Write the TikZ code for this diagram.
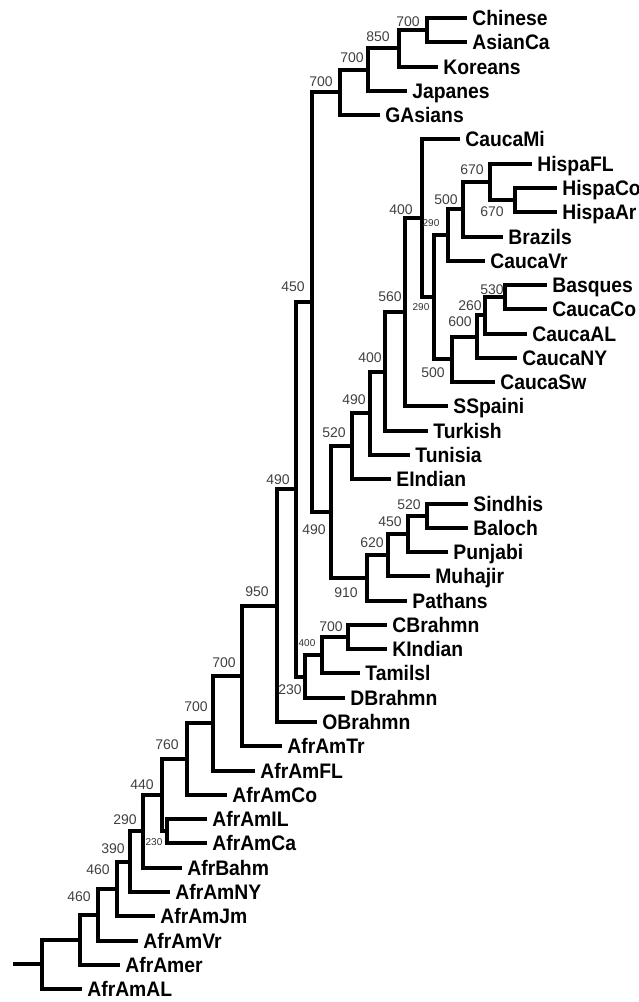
\documentclass[tikz,border=0pt]{standalone}
\usepackage{fontspec}
\newfontfamily\leaffont[FakeStretch=0.92]{Liberation Sans}
\newfontfamily\bootfont{Liberation Sans}

\begin{document}
\begin{tikzpicture}[
  x=0.5pt, y=-0.5pt,
  leaf/.style={anchor=west, font=\leaffont\bfseries\fontsize{10.5}{10.5}\selectfont, inner xsep=2.5pt, inner ysep=0pt, text height=7.5pt, text depth=0pt},
  branch/.style={line width=2pt, line join=miter},
  boot/.style={font=\bootfont\fontsize{7}{7}\selectfont, text=black!75, inner sep=0pt},
  bootsmall/.style={font=\bootfont\fontsize{5}{5}\selectfont, text=black!80, inner sep=0pt}
]
\useasboundingbox (0,0) rectangle (638,1002);
\node[leaf] at (467,18.0) (Chinese) {Chinese};
\node[leaf] at (467,42.3) (AsianCa) {AsianCa};
\node[leaf] at (438,66.6) (Koreans) {Koreans};
\node[leaf] at (407,90.8) (Japanes) {Japanes};
\node[leaf] at (380,115.1) (GAsians) {GAsians};
\node[leaf] at (460,139.4) (CaucaMi) {CaucaMi};
\node[leaf] at (532,163.7) (HispaFL) {HispaFL};
\node[leaf] at (557,187.9) (HispaCo) {HispaCo};
\node[leaf] at (557,212.2) (HispaAr) {HispaAr};
\node[leaf] at (503,236.5) (Brazils) {Brazils};
\node[leaf] at (485,260.8) (CaucaVr) {CaucaVr};
\node[leaf] at (547,285.0) (Basques) {Basques};
\node[leaf] at (547,309.3) (CaucaCo) {CaucaCo};
\node[leaf] at (527,333.6) (CaucaAL) {CaucaAL};
\node[leaf] at (517,357.9) (CaucaNY) {CaucaNY};
\node[leaf] at (495,382.1) (CaucaSw) {CaucaSw};
\node[leaf] at (448,406.4) (SSpaini) {SSpaini};
\node[leaf] at (428,430.7) (Turkish) {Turkish};
\node[leaf] at (410,455.0) (Tunisia) {Tunisia};
\node[leaf] at (391,479.2) (EIndian) {EIndian};
\node[leaf] at (468,503.5) (Sindhis) {Sindhis};
\node[leaf] at (468,527.8) (Baloch) {Baloch};
\node[leaf] at (448,552.1) (Punjabi) {Punjabi};
\node[leaf] at (430,576.3) (Muhajir) {Muhajir};
\node[leaf] at (407,600.6) (Pathans) {Pathans};
\node[leaf] at (387,624.9) (CBrahmn) {CBrahmn};
\node[leaf] at (387,649.2) (KIndian) {KIndian};
\node[leaf] at (360,673.4) (Tamilsl) {Tamilsl};
\node[leaf] at (345,697.7) (DBrahmn) {DBrahmn};
\node[leaf] at (317,722.0) (OBrahmn) {OBrahmn};
\node[leaf] at (282,746.3) (AfrAmTr) {AfrAmTr};
\node[leaf] at (255,770.5) (AfrAmFL) {AfrAmFL};
\node[leaf] at (227,794.8) (AfrAmCo) {AfrAmCo};
\node[leaf] at (207,819.1) (AfrAmIL) {AfrAmIL};
\node[leaf] at (207,843.4) (AfrAmCa) {AfrAmCa};
\node[leaf] at (182,867.6) (AfrBahm) {AfrBahm};
\node[leaf] at (170,891.9) (AfrAmNY) {AfrAmNY};
\node[leaf] at (155,916.2) (AfrAmJm) {AfrAmJm};
\node[leaf] at (138,940.5) (AfrAmVr) {AfrAmVr};
\node[leaf] at (120,964.7) (AfrAmer) {AfrAmer};
\node[leaf] at (82,989.0) (AfrAmAL) {AfrAmAL};
\coordinate (cn) at (427,30.1);
\coordinate (cnk) at (399,48.4);
\coordinate (cnkj) at (368,69.6);
\coordinate (easia) at (340,92.4);
\coordinate (hispB) at (515,200.1);
\coordinate (hispA) at (490,181.9);
\coordinate (hispBr) at (463,209.2);
\coordinate (hispAll) at (448,235.0);
\coordinate (basq) at (505,297.2);
\coordinate (caucaEuB) at (485,315.4);
\coordinate (caucaEuA) at (477,336.6);
\coordinate (caucaEu) at (452,359.4);
\coordinate (caucaAm) at (434,297.2);
\coordinate (cauca) at (422,218.3);
\coordinate (westC) at (405,312.4);
\coordinate (westB) at (385,371.5);
\coordinate (westA) at (370,413.3);
\coordinate (west) at (352,446.2);
\coordinate (sindbal) at (427,515.7);
\coordinate (indusB) at (408,533.9);
\coordinate (indusA) at (388,555.1);
\coordinate (indus) at (367,577.9);
\coordinate (westind) at (331,512.0);
\coordinate (eurasia) at (312,302.2);
\coordinate (brahC) at (348,637.0);
\coordinate (brahB) at (322,655.2);
\coordinate (brahA) at (305,676.5);
\coordinate (nonafr) at (296,489.3);
\coordinate (asiaall) at (277,605.7);
\coordinate (afrA) at (242,676.0);
\coordinate (afrB) at (213,723.2);
\coordinate (afrC) at (187,759.0);
\coordinate (afrIlCa) at (167,831.2);
\coordinate (afrD) at (162,795.1);
\coordinate (afrE) at (143,831.4);
\coordinate (afrF) at (130,861.6);
\coordinate (afrG) at (117,888.9);
\coordinate (afrH) at (98,914.7);
\coordinate (afrI) at (80,939.7);
\coordinate (root) at (42,964.4);
\coordinate (stub) at (13,964.4);
\draw[branch] (cn) |- (Chinese.west) (cn) |- (AsianCa.west);
\draw[branch] (cnk) |- (cn) (cnk) |- (Koreans.west);
\draw[branch] (cnkj) |- (cnk) (cnkj) |- (Japanes.west);
\draw[branch] (easia) |- (cnkj) (easia) |- (GAsians.west);
\draw[branch] (eurasia) |- (easia) (eurasia) |- (westind);
\draw[branch] (hispB) |- (HispaCo.west) (hispB) |- (HispaAr.west);
\draw[branch] (hispA) |- (HispaFL.west) (hispA) |- (hispB);
\draw[branch] (hispBr) |- (hispA) (hispBr) |- (Brazils.west);
\draw[branch] (hispAll) |- (hispBr) (hispAll) |- (CaucaVr.west);
\draw[branch] (basq) |- (Basques.west) (basq) |- (CaucaCo.west);
\draw[branch] (caucaEuB) |- (basq) (caucaEuB) |- (CaucaAL.west);
\draw[branch] (caucaEuA) |- (caucaEuB) (caucaEuA) |- (CaucaNY.west);
\draw[branch] (caucaEu) |- (caucaEuA) (caucaEu) |- (CaucaSw.west);
\draw[branch] (caucaAm) |- (hispAll) (caucaAm) |- (caucaEu);
\draw[branch] (cauca) |- (CaucaMi.west) (cauca) |- (caucaAm);
\draw[branch] (westC) |- (cauca) (westC) |- (SSpaini.west);
\draw[branch] (westB) |- (westC) (westB) |- (Turkish.west);
\draw[branch] (westA) |- (westB) (westA) |- (Tunisia.west);
\draw[branch] (west) |- (westA) (west) |- (EIndian.west);
\draw[branch] (sindbal) |- (Sindhis.west) (sindbal) |- (Baloch.west);
\draw[branch] (indusB) |- (sindbal) (indusB) |- (Punjabi.west);
\draw[branch] (indusA) |- (indusB) (indusA) |- (Muhajir.west);
\draw[branch] (indus) |- (indusA) (indus) |- (Pathans.west);
\draw[branch] (westind) |- (west) (westind) |- (indus);
\draw[branch] (brahC) |- (CBrahmn.west) (brahC) |- (KIndian.west);
\draw[branch] (brahB) |- (brahC) (brahB) |- (Tamilsl.west);
\draw[branch] (brahA) |- (brahB) (brahA) |- (DBrahmn.west);
\draw[branch] (nonafr) |- (eurasia) (nonafr) |- (brahA);
\draw[branch] (asiaall) |- (nonafr) (asiaall) |- (OBrahmn.west);
\draw[branch] (afrA) |- (asiaall) (afrA) |- (AfrAmTr.west);
\draw[branch] (afrB) |- (afrA) (afrB) |- (AfrAmFL.west);
\draw[branch] (afrC) |- (afrB) (afrC) |- (AfrAmCo.west);
\draw[branch] (afrIlCa) |- (AfrAmIL.west) (afrIlCa) |- (AfrAmCa.west);
\draw[branch] (afrD) |- (afrC) (afrD) |- (afrIlCa);
\draw[branch] (afrE) |- (afrD) (afrE) |- (AfrBahm.west);
\draw[branch] (afrF) |- (afrE) (afrF) |- (AfrAmNY.west);
\draw[branch] (afrG) |- (afrF) (afrG) |- (AfrAmJm.west);
\draw[branch] (afrH) |- (afrG) (afrH) |- (AfrAmVr.west);
\draw[branch] (afrI) |- (afrH) (afrI) |- (AfrAmer.west);
\draw[branch] (root) |- (afrI) (root) |- (AfrAmAL.west);
\draw[branch] (stub) -- (root);
\node[boot] at (408,22) (bcn) {700};
\node[boot] at (378,37) (bcnk) {850};
\node[boot] at (352,58) (bcnkj) {700};
\node[boot] at (321,82) (beasia) {700};
\node[boot] at (293,287) (beurasia) {450};
\node[boot] at (314,530) (bwestind) {490};
\node[boot] at (278,480) (bnonafr) {490};
\node[boot] at (334,433) (bwest) {520};
\node[boot] at (354,400) (bwestA) {490};
\node[boot] at (370,358) (bwestB) {400};
\node[boot] at (390,297) (bwestC) {560};
\node[boot] at (401,210) (bcauca) {400};
\node[bootsmall] at (421,307) (bcaucaAm) {290};
\node[bootsmall] at (431,223) (bhispAll) {290};
\node[boot] at (446,200) (bhispBr) {500};
\node[boot] at (472,170) (bhispA) {670};
\node[boot] at (492,212) (bhispB) {670};
\node[boot] at (433,373) (bcaucaEu) {500};
\node[boot] at (460,322) (bcaucaEuA) {600};
\node[boot] at (470,306) (bcaucaEuB) {260};
\node[boot] at (492,290) (bbasq) {530};
\node[boot] at (409,505) (bsindbal) {520};
\node[boot] at (390,522) (bindusB) {450};
\node[boot] at (372,543) (bindusA) {620};
\node[boot] at (346,593) (bindus) {910};
\node[boot] at (331,627) (bbrahC) {700};
\node[bootsmall] at (307,643) (bbrahB) {400};
\node[boot] at (290,690) (bbrahA) {230};
\node[boot] at (257,592) (basiaall) {950};
\node[boot] at (224,663) (bafrA) {700};
\node[boot] at (196,707) (bafrB) {700};
\node[boot] at (167,745) (bafrC) {760};
\node[boot] at (142,785) (bafrD) {440};
\node[bootsmall] at (154,842) (bafrIlCa) {230};
\node[boot] at (125,820) (bafrE) {290};
\node[boot] at (113,849) (bafrF) {390};
\node[boot] at (98,870) (bafrG) {460};
\node[boot] at (79,897) (bafrH) {460};
\end{tikzpicture}
\end{document}
